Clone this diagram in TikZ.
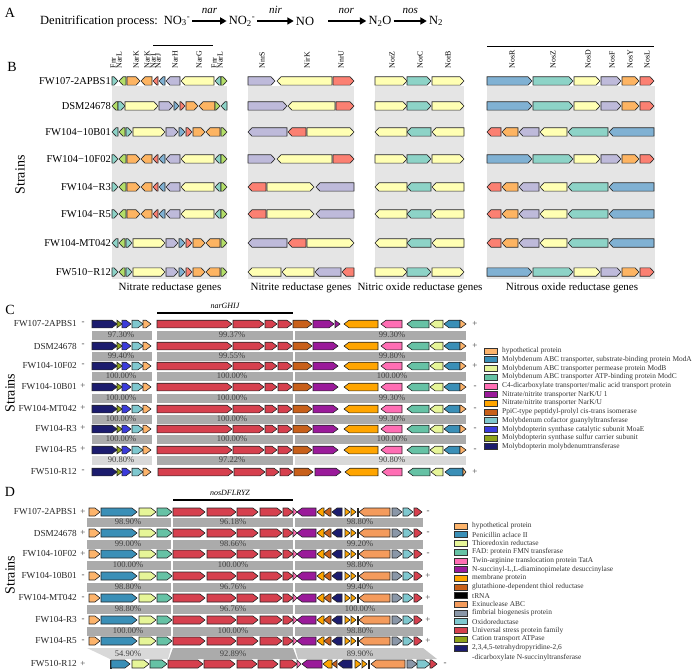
\documentclass[tikz,border=0pt]{standalone}
\usepackage{fontspec}
\setmainfont{Liberation Serif}
\usetikzlibrary{arrows.meta}

\definecolor{sTeal}{HTML}{8DD3C7}
\definecolor{sYel}{HTML}{FFFFB3}
\definecolor{sPur}{HTML}{BEBADA}
\definecolor{sRed}{HTML}{FB8072}
\definecolor{sBlu}{HTML}{80B1D3}
\definecolor{sOra}{HTML}{FDB462}
\definecolor{sGrn}{HTML}{B3DE69}
\definecolor{cNavy}{HTML}{1C1C6E}
\definecolor{cOlive}{HTML}{8FA31A}
\definecolor{cBlue}{HTML}{3B3BDB}
\definecolor{cCyan}{HTML}{7FC8CF}
\definecolor{cLOra}{HTML}{FDB46B}
\definecolor{cCrim}{HTML}{D6404E}
\definecolor{cBrown}{HTML}{C8601A}
\definecolor{cPurp}{HTML}{9A1A9A}
\definecolor{cOrange}{HTML}{FFA500}
\definecolor{cPink}{HTML}{FF6EB4}
\definecolor{cMint}{HTML}{66C2A5}
\definecolor{cPYel}{HTML}{E6F598}
\definecolor{cTBlue}{HTML}{3A8FB7}
\definecolor{cSalm}{HTML}{F49B5C}
\definecolor{cFimb}{HTML}{8A97A8}
\definecolor{bgGray}{HTML}{E5E5E5}
\definecolor{idDark}{HTML}{ABABAB}
\definecolor{idMid}{HTML}{C6C6C6}
\definecolor{idLight}{HTML}{D9D9D9}

\tikzset{
  gene/.style={draw=black!85,line width=0.6pt},
  rxn/.style={-{Triangle[length=6.5pt,width=7pt]},line width=1.7pt},
  chem/.style={font=\fontsize{12.5}{14}\selectfont,inner sep=2pt},
  panel/.style={font=\fontsize{14}{16}\selectfont,inner sep=0pt},
  strainax/.style={rotate=90,font=\fontsize{14}{16}\selectfont,inner sep=0pt},
  hdr/.style={rotate=90,anchor=west,font=\fontsize{7.8}{8}\selectfont,inner sep=0.5pt},
  rowB/.style={anchor=east,font=\fontsize{10.5}{12}\selectfont,inner sep=1pt},
  rowCD/.style={anchor=east,font=\fontsize{9.2}{10}\selectfont,inner sep=0pt,text=black!85},
  sgn/.style={font=\fontsize{9}{10}\selectfont,inner sep=0pt,text=black!75},
  pct/.style={font=\fontsize{8.5}{9}\selectfont,inner sep=0pt,text=black!75},
  sect/.style={font=\fontsize{11}{12}\selectfont,inner sep=0pt},
  legtxt/.style={anchor=west,font=\fontsize{7.4}{8}\selectfont,inner sep=0pt,text=black!80},
  legbox/.style={draw=black!80,line width=0.5pt}
}

\def\hh{4.2}
\def\hl{4}
\newcommand{\genef}[4]{%
  \pgfmathsetmacro\gtip{max(#1,#2-\hl)}%
  \draw[gene,fill=#4] (#1,#3-\hh) -- (\gtip,#3-\hh) -- (#2,#3) -- (\gtip,#3+\hh) -- (#1,#3+\hh) -- cycle;}
\newcommand{\geneb}[4]{%
  \pgfmathsetmacro\gtip{min(#2,#1+\hl)}%
  \draw[gene,fill=#4] (#2,#3-\hh) -- (\gtip,#3-\hh) -- (#1,#3) -- (\gtip,#3+\hh) -- (#2,#3+\hh) -- cycle;}

\begin{document}
\begin{tikzpicture}[x=1pt,y=-1pt]
\useasboundingbox (0,0) rectangle (696,671);

% A
\node[panel] (labA) at (10,13) {A};
\node[anchor=west,font=\fontsize{12.5}{14}\selectfont,inner sep=0pt] (proc) at (40,21) {Denitrification process:};
\node[chem] (no3) at (177,21) {NO\textsubscript{3}\textsuperscript{-}};
\node[chem] (no2) at (242,21) {NO\textsubscript{2}\textsuperscript{-}};
\node[chem] (no) at (305,21) {NO};
\node[chem] (n2o) at (380,21) {N\textsubscript{2}O};
\node[chem] (n2) at (436,21) {N\textsubscript{2}};
\draw[rxn] (no3) -- (no2) node[midway,above=3pt,font=\itshape\fontsize{11}{12}\selectfont] (nar) {nar};
\draw[rxn] (no2) -- (no) node[midway,above=3pt,font=\itshape\fontsize{11}{12}\selectfont] (nir) {nir};
\draw[rxn,shorten <=12pt] (no) -- (n2o) node[pos=0.6,above=3pt,font=\itshape\fontsize{11}{12}\selectfont] (nor) {nor};
\draw[rxn] (n2o) -- (n2) node[midway,above=3pt,font=\itshape\fontsize{11}{12}\selectfont] (nos) {nos};

% B
\node[panel] (labB) at (12,67) {B};
\node[strainax] (strB) at (20,175) {Strains};
\fill[bgGray] (112,86) rectangle (227,279);
\fill[bgGray] (248,86) rectangle (354,279);
\fill[bgGray] (375,86) rectangle (464,279);
\fill[bgGray] (487,86) rectangle (655,279);
\draw[line width=1pt] (153,46) -- (213,46);
\draw[line width=1pt] (487,47) -- (654,47);
\foreach \x/\t in {113/Fnr,119/NarL,136/NarK,147/NarK,153/NarI,158/NarJ,175/NarH,199/NarG,214/Fnr,220/NarL,
  262/NnrS,307/NirK,341/NnrU,392/NorZ,420/NorC,448/NorB,
  512/NosR,553/NosZ,588/NosD,612/NosF,630/NosY,647/NosL}
  \node[hdr] (h\x) at (\x,69) {\t};
\foreach \y/\t in {81/FW107-2APBS1,106/DSM24678,132/FW104−10B01,159/FW104−10F02,187/FW104−R3,214/FW104−R5,243/FW104-MT042,272/FW510−R12}
  \node[rowB] (rB\y) at (112,\y) {\t};
% nitrate
\foreach \y in {81,159,187,214}{
  \genef{112}{118}{\y}{sTeal}\geneb{119}{126}{\y}{sGrn}\genef{127}{140}{\y}{sOra}\geneb{141}{152}{\y}{sOra}
  \geneb{153}{158}{\y}{sRed}\geneb{159}{165}{\y}{sBlu}\geneb{166}{180}{\y}{sPur}\geneb{181}{214}{\y}{sYel}
  \geneb{215}{221}{\y}{sTeal}\genef{221}{227}{\y}{sGrn}}
\geneb{112}{118}{106}{sGrn}\genef{118}{125}{106}{sTeal}\genef{125}{158}{106}{sYel}\genef{159}{173}{106}{sPur}
\genef{174}{179}{106}{sBlu}\genef{180}{185}{106}{sRed}\genef{186}{198}{106}{sOra}\geneb{199}{215}{106}{sOra}
\genef{215}{220}{106}{sGrn}\geneb{221}{227}{106}{sTeal}
\geneb{112}{118}{132}{sTeal}\geneb{119}{125}{132}{sGrn}
\geneb{112}{118}{243}{sTeal}\geneb{119}{125}{243}{sGrn}
\genef{112}{118}{272}{sTeal}\geneb{119}{125}{272}{sGrn}
\foreach \y in {132,243,272}{
  \genef{126}{132}{\y}{sTeal}\genef{133}{165}{\y}{sYel}\genef{166}{178}{\y}{sPur}\genef{179}{185}{\y}{sBlu}
  \genef{186}{192}{\y}{sRed}\genef{193}{205}{\y}{sOra}\geneb{206}{220}{\y}{sOra}\genef{221}{227}{\y}{sGrn}}
% nitrite
\foreach \y in {81,159}{\genef{248}{275}{\y}{sPur}\geneb{277}{332}{\y}{sYel}\genef{333}{354}{\y}{sRed}}
\genef{248}{287}{106}{sPur}\geneb{288}{335}{106}{sYel}\genef{336}{354}{106}{sRed}
\foreach \y in {132,243}{\geneb{248}{287}{\y}{sPur}\geneb{288}{306}{\y}{sRed}\genef{307}{354}{\y}{sYel}}
\foreach \y in {187,214}{\geneb{248}{266}{\y}{sRed}\genef{267}{314}{\y}{sYel}\geneb{316}{354}{\y}{sPur}}
\geneb{248}{281}{272}{sYel}\geneb{282}{314}{272}{sYel}\geneb{315}{341}{272}{sPur}\geneb{342}{354}{272}{sRed}
% nitric oxide and nitrous oxide
\foreach \y in {81,106,159,272}{
  \genef{375}{407}{\y}{sYel}\genef{407}{431}{\y}{sTeal}\genef{432}{464}{\y}{sYel}
  \genef{487}{532}{\y}{sBlu}\genef{533}{573}{\y}{sTeal}\genef{574}{600}{\y}{sYel}
  \genef{601}{621}{\y}{sPur}\genef{622}{639}{\y}{sOra}\genef{640}{654}{\y}{sRed}}
\foreach \y in {132,187,214,243}{
  \geneb{375}{407}{\y}{sYel}\geneb{407}{431}{\y}{sTeal}\geneb{432}{464}{\y}{sYel}
  \geneb{487}{501}{\y}{sRed}\geneb{502}{518}{\y}{sOra}\geneb{519}{539}{\y}{sPur}
  \geneb{540}{567}{\y}{sYel}\geneb{568}{608}{\y}{sTeal}\geneb{609}{654}{\y}{sBlu}}
\node[sect] (sNa) at (170,288) {Nitrate reductase genes};
\node[sect] (sNi) at (301,288) {Nitrite reductase genes};
\node[sect] (sNo) at (420,288) {Nitric oxide reductase genes};
\node[sect] (sNs) at (572,288) {Nitrous oxide reductase genes};

% C
\node[panel] (labC) at (10,310) {C};
\node[strainax] (strC) at (10,393) {Strains};
\node[font=\itshape\fontsize{8}{9}\selectfont,inner sep=0pt] (narG) at (225,306) {narGHIJ};
\draw[line width=1.2pt] (157,313) -- (293,313);
\foreach \y/\t/\l/\r in {324/FW107-2APBS1/-/+,346/DSM24678/-/+,366/FW104-10F02/-/+,387/FW104-10B01/+/-,
  409/FW104-MT042/+/-,429/FW104-R3/+/-,450/FW104-R5/+/-,472/FW510-R12/-/+}{
  \node[rowCD] (rC\y) at (77,\y) {\t};
  \node[sgn] (lC\y) at (83,\y-1) {\l};
  \node[sgn] (gC\y) at (475,\y) {\r};}
\foreach \y/\a/\b/\c/\ca/\cb/\cc in {335/97.30/99.37/99.30/idDark/idDark/idDark,356/99.40/99.55/99.80/idDark/idDark/idDark,
  376/100.00/100.00/100.00/idDark/idDark/idDark,398/100.00/100.00/99.30/idDark/idDark/idDark,
  419/100.00/100.00/99.30/idDark/idDark/idDark,439/100.00/100.00/100.00/idDark/idDark/idDark,
  460/90.80/97.22/90.80/idLight/idDark/idLight}{
  \fill[\ca] (92,\y-4.5) rectangle (152,\y+4.5);
  \fill[\cb] (157,\y-4.5) rectangle (293,\y+4.5);
  \fill[\cc] (295,\y-4.5) rectangle (466,\y+4.5);
  \node[pct] (pa\y) at (121,\y) {\a\%};
  \node[pct] (pb\y) at (232,\y) {\b\%};
  \node[pct] (pc\y) at (392,\y) {\c\%};}
\def\hh{3.8}\def\hl{5}
\foreach \y in {324,346,366,387,409,429,450}{
  \genef{92}{117}{\y}{cNavy}\genef{117}{122}{\y}{cOlive}\genef{122}{131}{\y}{cBlue}\genef{132}{143}{\y}{cCyan}
  \genef{143}{151}{\y}{cLOra}\genef{157}{232}{\y}{cCrim}\genef{233}{264}{\y}{cCrim}\genef{265}{277}{\y}{cCrim}
  \genef{278}{292}{\y}{cCrim}\genef{293}{312}{\y}{cBrown}
  \geneb{344}{378}{\y}{cOrange}\geneb{381}{402}{\y}{cPink}\geneb{407}{429}{\y}{cMint}\geneb{430}{443}{\y}{cPYel}
  \geneb{444}{460}{\y}{cTBlue}\genef{460}{466}{\y}{cLOra}}
\genef{313}{334}{324}{cPurp}\genef{335}{340}{324}{cPurp}
\foreach \y in {346,366,387,409,429,450}{\genef{313}{338}{\y}{cPurp}}
\genef{92}{117}{472}{cNavy}\genef{117}{122}{472}{cOlive}\genef{122}{131}{472}{cBlue}\genef{132}{143}{472}{cCyan}
\genef{143}{151}{472}{cLOra}\genef{158}{233}{472}{cCrim}\genef{234}{265}{472}{cCrim}\genef{266}{279}{472}{cCrim}
\genef{280}{293}{472}{cCrim}\genef{294}{313}{472}{cBrown}\genef{315}{341}{472}{cPurp}
\geneb{345}{378}{472}{cOrange}\geneb{382}{402}{472}{cPink}\geneb{408}{430}{472}{cMint}\geneb{431}{443}{472}{cPYel}
\geneb{445}{463}{472}{cTBlue}\genef{463}{466}{472}{cLOra}
\foreach \c/\t [count=\i from 0] in {cLOra/hypothetical protein,
  {cTBlue/Molybdenum ABC transporter, substrate-binding protein ModA},
  cPYel/Molybdenum ABC transporter permease protein ModB,
  cMint/Molybdenum ABC transporter ATP-binding protein ModC,
  cPink/C4-dicarboxylate transporter\slash malic acid transport protein,
  cPurp/Nitrate\slash nitrite transporter NarK\slash U 1,
  cOrange/Nitrate\slash nitrite transporter NarK\slash U,
  cBrown/PpiC-type peptidyl-prolyl cis-trans isomerase,
  cCyan/Molybdenum cofactor guanylyltransferase,
  cBlue/Molybdopterin synthase catalytic subunit MoaE,
  cOlive/Molybdopterin synthase sulfur carrier subunit,
  cNavy/Molybdopterin molybdenumtransferase}{
  \draw[legbox,fill=\c] (484,351+8.7*\i-3) rectangle (497,351+8.7*\i+3);
  \node[legtxt] (legC\i) at (502,351+8.7*\i) {\t};}

% D
\node[panel] (labD) at (10,492) {D};
\node[strainax] (strD) at (10,575) {Strains};
\node[font=\itshape\fontsize{8}{9}\selectfont,inner sep=0pt] (nosD) at (230,493) {nosDFLRYZ};
\draw[line width=1.2pt] (173,500) -- (293,500);
\foreach \y/\t/\l/\r in {512/FW107-2APBS1/+/-,533/DSM24678/+/-,554/FW104-10F02/+/-,576/FW104-10B01/-/+,
  598/FW104-MT042/-/+,620/FW104-R3/-/+,641/FW104-R5/-/+}{
  \node[rowCD] (rD\y) at (77,\y) {\t};
  \node[sgn] (lD\y) at (83,\y) {\l};
  \node[sgn] (gD\y) at (428,\y) {\r};}
\node[rowCD] (rD664) at (77,664) {FW510-R12};
\node[sgn] (lD664) at (83,664) {+};
\node[sgn] (gD664) at (445,664) {-};
\foreach \y/\a/\b/\c in {522/98.90/96.18/98.80,544/99.00/98.66/99.20,565/100.00/100.00/98.80,
  587/98.80/96.76/99.40,609/98.80/96.76/100.00,631/100.00/100.00/98.80}{
  \fill[idDark] (87,\y-4.5) rectangle (171,\y+4.5);
  \fill[idDark] (173,\y-4.5) rectangle (293,\y+4.5);
  \fill[idDark] (295,\y-4.5) rectangle (423,\y+4.5);
  \node[pct] (qa\y) at (128,\y) {\a\%};
  \node[pct] (qb\y) at (233,\y) {\b\%};
  \node[pct] (qc\y) at (360,\y) {\c\%};}
\fill[idLight] (87,648) -- (171,648) -- (168,659) -- (110,659) -- cycle;
\fill[idDark] (173,648) -- (293,648) -- (297,659) -- (169,659) -- cycle;
\fill[idMid] (295,648) -- (423,648) -- (437,659) -- (298,659) -- cycle;
\node[pct] (qa653) at (128,654) {54.90\%};
\node[pct] (qb653) at (233,654) {92.89\%};
\node[pct] (qc653) at (360,654) {89.90\%};
\def\hh{4}\def\hl{5}
\foreach \y in {512,533,554,576,598,620,641}{
  \genef{89}{100}{\y}{cLOra}\genef{101}{137}{\y}{cTBlue}\genef{139}{156}{\y}{cPYel}\genef{157}{172}{\y}{cMint}
  \genef{173}{205}{\y}{cCrim}\genef{207}{236}{\y}{cCrim}\genef{237}{258}{\y}{cCrim}\genef{260}{282}{\y}{cCrim}
  \genef{283}{293}{\y}{cCrim}\genef{293}{297}{\y}{cPink}\geneb{297}{316}{\y}{cPurp}\geneb{317}{324}{\y}{cOrange}
  \geneb{324}{331}{\y}{cBrown}\geneb{332}{342}{\y}{cNavy}\genef{345}{350}{\y}{cOrange}\genef{351}{356}{\y}{cOrange}
  \draw[gene,fill=black] (357,\y-4) rectangle (358.5,\y+4);
  \geneb{359}{390}{\y}{cSalm}\genef{392}{402}{\y}{cFimb}\genef{403}{413}{\y}{cCyan}\genef{414}{422}{\y}{cCrim}}
\draw[gene,fill=black] (110,660) rectangle (111.5,668);
\genef{111}{130}{664}{cTBlue}\genef{132}{149}{664}{cPYel}\genef{150}{167}{664}{cMint}
\genef{168}{203}{664}{cCrim}\genef{204}{235}{664}{cCrim}\genef{237}{257}{664}{cCrim}\genef{258}{278}{664}{cCrim}
\genef{280}{297}{664}{cCrim}\genef{297}{301}{664}{cPink}\geneb{302}{322}{664}{cPurp}\geneb{323}{332}{664}{cOrange}
\geneb{332}{337}{664}{cBrown}\geneb{338}{352}{664}{cNavy}\genef{355}{361}{664}{cOrange}\genef{362}{367}{664}{cOrange}
\draw[gene,fill=black] (368,660) rectangle (369.5,668);
\geneb{371}{405}{664}{cSalm}\genef{407}{417}{664}{cFimb}\genef{417}{430}{664}{cCyan}\genef{430}{437}{664}{cCrim}
\foreach \c/\t [count=\i from 0] in {cLOra/hypothetical protein,
  cTBlue/Penicillin aclace II,
  cPYel/Thioredoxin reductase,
  cMint/FAD: protein FMN transferase,
  cPink/Twin-arginine translocation protein TatA,
  {cPurp/N-succinyl-L,L-diaminopimelate desuccinylase},
  cOrange/membrane protein,
  cBrown/glutathione-dependent thiol reductase,
  black/tRNA,
  cSalm/Exinuclease ABC,
  cFimb/fimbrial biogenesis protein,
  cCyan/Oxidoreductase,
  cCrim/Universal stress protein family,
  cOlive/Cation transport ATPase,
  {cNavy/2,3,4,5-tetrahydropyridine-2,6}}{
  \draw[legbox,fill=\c] (454,526+8.7*\i-3) rectangle (467,526+8.7*\i+3);
  \node[legtxt] (legD\i) at (472,526+8.7*\i) {\t};}
\node[legtxt] (legD15) at (472,658) {-dicarboxylate N-succinyltransferase};
\end{tikzpicture}
\end{document}
